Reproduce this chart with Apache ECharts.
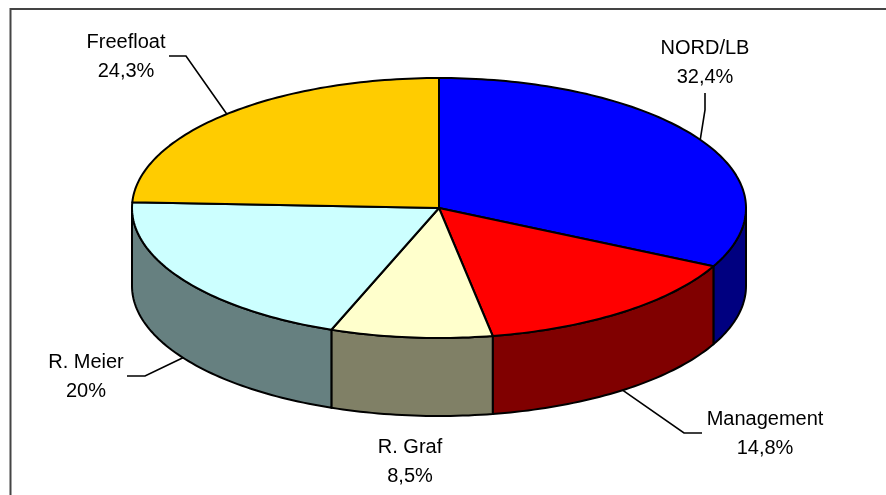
<!DOCTYPE html>
<html>
<head>
<meta charset="utf-8">
<style>
  html, body { margin: 0; padding: 0; background: #fff; }
  #chart { width: 886px; height: 495px; }
</style>
<script src="https://cdn.jsdelivr.net/npm/echarts@6/dist/echarts.min.js"></script>
</head>
<body>
<div id="chart"></div>
<script>
// shareholders, clockwise from 12 o'clock
const names = ['NORD/LB', 'Management', 'R. Graf', 'R. Meier', 'Freefloat']
const shares = [32.4, 14.8, 8.5, 20, 24.3]

const topColors = ['#0000FF', '#FF0000', '#FFFFCC', '#CCFFFF', '#FFCC00']
const sideColors = ['#000080', '#800000', '#808066', '#668080', '#806600']

// pie geometry in px
const cx = 439, cy = 208, rx = 307, ry = 130, depth = 78

// label centre (x, first line y) and leader elbow, per slice
const labelPos = [[705, 48], [765, 419], [410, 447], [86, 362], [126, 42]]
const leaderPts = [
  [[705, 93], [705, 110]],
  [[702, 433], [684, 433]],
  null,
  [[127, 376], [145, 376]],
  [[169, 56], [186, 56]]
]
const lineGap = 29

const total = shares.reduce((a, b) => a + b, 0)

// t is in radians, 0 = top of the ellipse, going clockwise
const edgePoint = (t, dy) => [cx + rx * Math.sin(t), cy - ry * Math.cos(t) + dy]

const arc = (t0, t1, dy) => {
  const pts = []
  const n = Math.max(2, Math.ceil(Math.abs(t1 - t0) / 0.02))
  for (let i = 0; i <= n; i++) {
    pts.push(edgePoint(t0 + (t1 - t0) * i / n, dy))
  }
  return pts
}

const renderSlice = (params, api) => {
  const i = params.dataIndex
  const before = shares.slice(0, i).reduce((a, b) => a + b, 0)
  const t0 = before / total * Math.PI * 2
  const t1 = (before + api.value(0)) / total * Math.PI * 2
  const children = []
  const edge = { stroke: '#000', lineWidth: 2, lineJoin: 'round' }

  // only the front half of the rim can be seen
  const s0 = Math.max(t0, Math.PI / 2)
  const s1 = Math.min(t1, Math.PI * 1.5)
  if (s1 > s0) {
    children.push({
      type: 'polygon',
      shape: { points: arc(s0, s1, 0).concat(arc(s1, s0, depth)) },
      style: { fill: sideColors[i], ...edge }
    })
  }

  children.push({
    type: 'polygon',
    shape: { points: [[cx, cy]].concat(arc(t0, t1, 0)) },
    style: { fill: topColors[i], ...edge }
  })

  if (leaderPts[i]) {
    const mid = (t0 + t1) / 2
    const anchor = edgePoint(mid, Math.cos(mid) < 0 ? depth : 0)
    children.push({
      type: 'polyline',
      shape: { points: leaderPts[i].concat([anchor]) },
      style: { stroke: '#000', lineWidth: 1.6, fill: null }
    })
  }

  const [lx, ly] = labelPos[i]
  const pct = String(api.value(0)).replace('.', ',') + '%'
  ;[names[i], pct].forEach((txt, k) => {
    children.push({
      type: 'text',
      style: {
        x: lx,
        y: ly + k * lineGap,
        text: txt,
        fill: '#000',
        font: '20px "Liberation Sans", Arial, sans-serif',
        textAlign: 'center',
        textVerticalAlign: 'middle'
      }
    })
  })

  return { type: 'group', children }
}

const chart = echarts.init(document.getElementById('chart'), null, { renderer: 'canvas' })

chart.setOption({
  animation: false,
  backgroundColor: '#fff',
  graphic: [
    {
      type: 'polyline',
      silent: true,
      shape: { points: [[10.5, 495], [10.5, 9], [886, 9]] },
      style: { stroke: '#444', lineWidth: 2, fill: null }
    }
  ],
  series: [
    {
      type: 'custom',
      coordinateSystem: 'none',
      silent: true,
      renderItem: renderSlice,
      data: shares.map(v => [v])
    }
  ]
})
</script>
</body>
</html>
